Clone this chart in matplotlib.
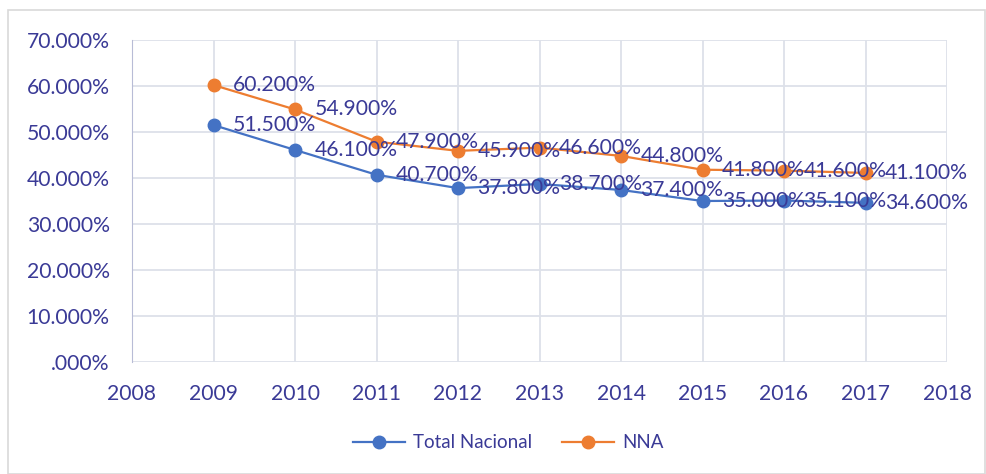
import matplotlib
matplotlib.use("Agg")
import matplotlib.pyplot as plt
from matplotlib.patches import Rectangle
from matplotlib.ticker import FuncFormatter

years = [2009, 2010, 2011, 2012, 2013, 2014, 2015, 2016, 2017]
total_nacional = [51.5, 46.1, 40.7, 37.8, 38.7, 37.4, 35.0, 35.1, 34.6]
nna = [60.2, 54.9, 47.9, 45.9, 46.6, 44.8, 41.8, 41.6, 41.1]
yticks = [0, 10, 20, 30, 40, 50, 60, 70]
xticks = [2008, 2009, 2010, 2011, 2012, 2013, 2014, 2015, 2016, 2017, 2018]

txt = "#3a3a96"
grid = "#dde1e9"
blue = "#4472C4"
orange = "#ED7D31"
plt.rcParams['font.family'] = ['Lato', 'DejaVu Sans']
fs = 15.2

fig = plt.figure(figsize=(9.87, 4.74), dpi=100)
fig.patches.append(Rectangle((8/987, 0), 1 - 8/987 - 2/987, 1 - 10/474, transform=fig.transFigure,
                             fill=False, edgecolor="#d9d9d9", linewidth=1.2))
ax = fig.add_axes([132/987, 1 - 362/474, (947 - 132)/987, (362 - 40)/474])
ax.set_xlim(2008, 2018)
ax.set_ylim(0, 70)
ax.set_xticks(xticks)
ax.set_yticks(yticks)
ax.yaxis.set_major_formatter(FuncFormatter(lambda v, p: ("%.3f%%" % v).lstrip("0") if v == 0 else "%.3f%%" % v))
ax.grid(True, color=grid, linewidth=1.3)
ax.set_axisbelow(True)
for s in ["top", "right", "bottom"]:
    ax.spines[s].set_visible(False)
ax.spines["left"].set_color("#b8bcd6")
ax.tick_params(length=0, labelsize=fs, labelcolor=txt)
ax.tick_params(axis="y", pad=16)
ax.tick_params(axis="x", pad=16)

l1, = ax.plot(years, total_nacional, color=blue, marker="o", markersize=9, linewidth=1.6, label="Total Nacional")
l2, = ax.plot(years, nna, color=orange, marker="o", markersize=9, linewidth=1.6, label="NNA")

for x, v in zip(years, total_nacional):
    ax.annotate("%.3f%%" % v, (x, v), xytext=(14, 0), textcoords="offset points",
                va="center", ha="left", fontsize=fs, color=txt)
for x, v in zip(years, nna):
    ax.annotate("%.3f%%" % v, (x, v), xytext=(14, 0), textcoords="offset points",
                va="center", ha="left", fontsize=fs, color=txt)

leg = fig.legend(handles=[l1, l2], loc="center", bbox_to_anchor=(508/987, 1 - 443/474), ncol=2,
                 frameon=False, fontsize=13.5, handlelength=2.8, columnspacing=1.6, handletextpad=0.4)
for t in leg.get_texts():
    t.set_color(txt)

fig.savefig("out.png", dpi=100)
